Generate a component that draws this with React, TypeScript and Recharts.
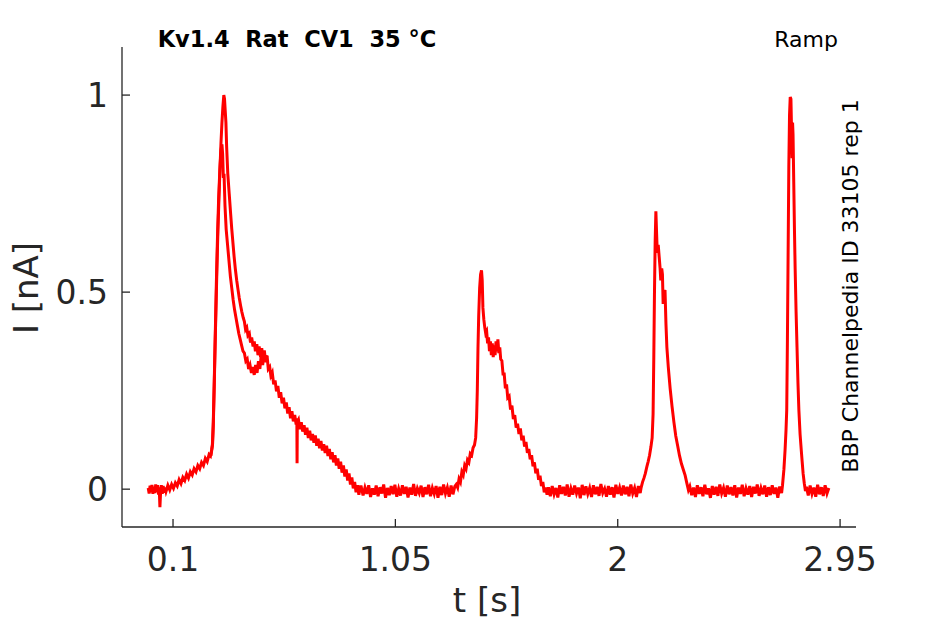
import { Line, LineChart, XAxis, YAxis } from "recharts";

type Sample = [number, number];

// time [s], current [nA]
const quietStart: Sample[] = [
  [-0.006, 0.003], [-0.002, -0.011], [0.002, 0.009], [0.006, -0.008], [0.01, 0.011],
  [0.014, -0.012], [0.018, 0.006], [0.022, -0.01], [0.026, 0.012], [0.03, -0.007],
  [0.034, 0.01], [0.038, -0.014], [0.041, 0.005], [0.044, -0.046], [0.047, -0.006],
  [0.05, 0.01], [0.054, -0.012], [0.058, 0.008], [0.062, -0.009], [0.066, 0.004],
];

const firstRamp: Sample[] = [
  [0.07, -0.006], [0.078, 0.01], [0.086, -0.002], [0.094, 0.012], [0.102, 0.002],
  [0.11, 0.016], [0.118, 0.008], [0.126, 0.024], [0.134, 0.014], [0.142, 0.03],
  [0.15, 0.022], [0.158, 0.038], [0.166, 0.028], [0.174, 0.044], [0.182, 0.036],
  [0.19, 0.052], [0.198, 0.044], [0.206, 0.06], [0.214, 0.052], [0.222, 0.068],
  [0.23, 0.06], [0.238, 0.078], [0.246, 0.07], [0.254, 0.088], [0.26, 0.084],
  [0.265, 0.1],
];

const firstPeak: Sample[] = [
  [0.269, 0.115], [0.272, 0.16], [0.276, 0.26], [0.28, 0.37], [0.284, 0.47],
  [0.288, 0.57], [0.292, 0.66], [0.297, 0.75], [0.301, 0.82], [0.305, 0.88],
  [0.309, 0.93], [0.313, 0.97], [0.317, 1.0], [0.32, 0.99], [0.323, 0.96],
  [0.326, 0.93], [0.329, 0.87], [0.334, 0.8], [0.34, 0.75], [0.346, 0.7],
  [0.351, 0.66], [0.356, 0.625], [0.361, 0.59], [0.366, 0.56], [0.372, 0.53],
  [0.378, 0.505], [0.383, 0.485], [0.389, 0.465], [0.394, 0.45], [0.4, 0.435],
  [0.405, 0.425], [0.41, 0.405], [0.415, 0.41], [0.42, 0.39], [0.426, 0.395],
  [0.431, 0.372], [0.436, 0.385], [0.442, 0.362], [0.447, 0.375], [0.452, 0.35],
  [0.458, 0.368], [0.463, 0.34], [0.468, 0.362], [0.474, 0.335], [0.479, 0.358],
  [0.485, 0.33], [0.49, 0.352], [0.496, 0.322], [0.502, 0.338], [0.507, 0.305],
];

const firstDecay: Sample[] = [
  [0.513, 0.31], [0.518, 0.288], [0.524, 0.296], [0.53, 0.266], [0.536, 0.276],
  [0.542, 0.248], [0.548, 0.262], [0.554, 0.232], [0.56, 0.246], [0.566, 0.218],
  [0.572, 0.232], [0.578, 0.205], [0.584, 0.22], [0.59, 0.192], [0.596, 0.208],
  [0.602, 0.18], [0.608, 0.198], [0.614, 0.172], [0.62, 0.188], [0.626, 0.164],
  [0.629, 0.18], [0.63, 0.066], [0.631, 0.17], [0.636, 0.176], [0.642, 0.152],
  [0.648, 0.17], [0.654, 0.146], [0.66, 0.162], [0.666, 0.138], [0.672, 0.156],
  [0.678, 0.13], [0.684, 0.148], [0.69, 0.124], [0.696, 0.14], [0.702, 0.118],
  [0.708, 0.136], [0.714, 0.11], [0.72, 0.128], [0.726, 0.104], [0.732, 0.122],
  [0.738, 0.098], [0.744, 0.114], [0.75, 0.092], [0.756, 0.11], [0.762, 0.084],
  [0.768, 0.102], [0.774, 0.076], [0.78, 0.094], [0.786, 0.068], [0.792, 0.086],
  [0.798, 0.06], [0.804, 0.078], [0.81, 0.052], [0.816, 0.07], [0.822, 0.042],
  [0.828, 0.06], [0.834, 0.032], [0.84, 0.05], [0.846, 0.022], [0.852, 0.04],
  [0.858, 0.012], [0.864, 0.03], [0.87, 0.002], [0.876, 0.018], [0.882, -0.008],
  [0.888, 0.01], [0.894, -0.014], [0.9, 0.006],
];

const quietTwo: Sample[] = [
  [0.904, 0.006], [0.912, -0.016], [0.92, 0.004], [0.928, -0.012], [0.936, 0.01],
  [0.944, -0.02], [0.952, 0.002], [0.96, -0.014], [0.968, 0.009], [0.976, -0.018],
  [0.984, 0.005], [0.992, -0.011], [1.0, 0.012], [1.008, -0.022], [1.016, 0.003],
  [1.024, -0.015], [1.032, 0.008], [1.04, -0.013], [1.048, 0.011], [1.056, -0.019],
  [1.064, 0.001], [1.072, -0.016], [1.08, 0.01], [1.088, -0.012], [1.096, 0.006],
  [1.104, -0.021], [1.112, 0.004], [1.12, -0.014], [1.128, 0.013], [1.136, -0.017],
  [1.144, 0.002], [1.152, -0.01], [1.16, 0.009], [1.168, -0.02], [1.176, 0.005],
  [1.184, -0.013], [1.192, 0.011], [1.2, -0.018], [1.208, 0.003], [1.216, -0.012],
  [1.224, 0.008], [1.232, -0.022], [1.24, 0.006], [1.248, -0.015], [1.256, 0.012],
  [1.264, -0.011], [1.272, 0.004], [1.28, -0.019], [1.288, 0.009], [1.296, -0.013],
  [1.304, 0.007],
];

const secondPeak: Sample[] = [
  [1.31, 0.012], [1.316, 0.004], [1.322, 0.026], [1.328, 0.018], [1.334, 0.044],
  [1.34, 0.036], [1.346, 0.06], [1.352, 0.052], [1.358, 0.074], [1.364, 0.068],
  [1.37, 0.09], [1.376, 0.086], [1.382, 0.105], [1.388, 0.112], [1.393, 0.13],
  [1.397, 0.18], [1.4, 0.25], [1.403, 0.36], [1.406, 0.44], [1.41, 0.51],
  [1.414, 0.545], [1.418, 0.555], [1.421, 0.53], [1.424, 0.46], [1.428, 0.43],
  [1.432, 0.41], [1.436, 0.395], [1.44, 0.4], [1.444, 0.37], [1.448, 0.385],
  [1.452, 0.35], [1.456, 0.375], [1.46, 0.34], [1.464, 0.37], [1.468, 0.335],
  [1.472, 0.365], [1.476, 0.34], [1.48, 0.375], [1.484, 0.35], [1.488, 0.38],
  [1.492, 0.345], [1.496, 0.36], [1.5, 0.33], [1.505, 0.326], [1.51, 0.292],
  [1.515, 0.292], [1.52, 0.256], [1.525, 0.266], [1.53, 0.232], [1.536, 0.236],
  [1.542, 0.202], [1.548, 0.212], [1.554, 0.178], [1.56, 0.188], [1.566, 0.156],
  [1.572, 0.166], [1.578, 0.14], [1.584, 0.154], [1.59, 0.124], [1.596, 0.136],
  [1.602, 0.108], [1.608, 0.12], [1.614, 0.092], [1.62, 0.102], [1.626, 0.076],
  [1.632, 0.086], [1.638, 0.058], [1.644, 0.068], [1.65, 0.04], [1.656, 0.052],
  [1.662, 0.024], [1.668, 0.034], [1.674, 0.008], [1.68, 0.018], [1.686, -0.008],
  [1.692, 0.004], [1.698, -0.014],
];

const quietThree: Sample[] = [
  [1.704, 0.005], [1.712, -0.018], [1.72, 0.008], [1.728, -0.013], [1.736, 0.003],
  [1.744, -0.021], [1.752, 0.01], [1.76, -0.012], [1.768, 0.006], [1.776, -0.016],
  [1.784, 0.012], [1.792, -0.019], [1.8, 0.002], [1.808, -0.014], [1.816, 0.009],
  [1.824, -0.011], [1.832, 0.004], [1.84, -0.023], [1.848, 0.011], [1.856, -0.015],
  [1.864, 0.007], [1.872, -0.012], [1.88, 0.003], [1.888, -0.02], [1.896, 0.01],
  [1.904, -0.013], [1.912, 0.006], [1.92, -0.017], [1.928, 0.013], [1.936, -0.01],
  [1.944, 0.001], [1.952, -0.019], [1.96, 0.008], [1.968, -0.014], [1.976, 0.005],
  [1.984, -0.021], [1.992, 0.011], [2.0, -0.012], [2.008, 0.004], [2.016, -0.016],
  [2.024, 0.009], [2.032, -0.013], [2.04, 0.006], [2.048, -0.018], [2.056, 0.012],
  [2.064, -0.011], [2.072, 0.003], [2.08, -0.02], [2.088, 0.008], [2.096, -0.01],
];

const thirdPeak: Sample[] = [
  [2.1, 0.004], [2.106, 0.018], [2.112, 0.028], [2.118, 0.04], [2.124, 0.056],
  [2.13, 0.07], [2.136, 0.086], [2.142, 0.108], [2.147, 0.13], [2.151, 0.19],
  [2.154, 0.33], [2.157, 0.5], [2.16, 0.63], [2.163, 0.705], [2.166, 0.65],
  [2.169, 0.6], [2.173, 0.62], [2.177, 0.59], [2.181, 0.56], [2.184, 0.53],
  [2.188, 0.56], [2.191, 0.545], [2.194, 0.47], [2.198, 0.5], [2.202, 0.505],
  [2.206, 0.42], [2.21, 0.36], [2.216, 0.31], [2.224, 0.255], [2.232, 0.21],
  [2.24, 0.17], [2.248, 0.135], [2.256, 0.11], [2.264, 0.085], [2.272, 0.065],
  [2.28, 0.05], [2.288, 0.035], [2.295, 0.016], [2.302, -0.002],
];

const quietFour: Sample[] = [
  [2.308, 0.007], [2.316, -0.015], [2.324, 0.004], [2.332, -0.02], [2.34, 0.01],
  [2.348, -0.012], [2.356, 0.005], [2.364, -0.018], [2.372, 0.011], [2.38, -0.013],
  [2.388, 0.002], [2.396, -0.022], [2.404, 0.008], [2.412, -0.014], [2.42, 0.006],
  [2.428, -0.017], [2.436, 0.012], [2.444, -0.011], [2.452, 0.003], [2.46, -0.019],
  [2.468, 0.009], [2.476, -0.013], [2.484, 0.005], [2.492, -0.016], [2.5, 0.01],
  [2.508, -0.021], [2.516, 0.004], [2.524, -0.012], [2.532, 0.011], [2.54, -0.018],
  [2.548, 0.002], [2.556, -0.014], [2.564, 0.008], [2.572, -0.02], [2.58, 0.006],
  [2.588, -0.011], [2.596, 0.012], [2.604, -0.017], [2.612, 0.003], [2.62, -0.013],
  [2.628, 0.009], [2.636, -0.019], [2.644, 0.005], [2.652, -0.015], [2.66, 0.01],
  [2.668, -0.012], [2.676, 0.004], [2.684, -0.022], [2.692, 0.007], [2.7, -0.01],
];

const fourthPeak: Sample[] = [
  [2.704, 0.01], [2.71, 0.05], [2.715, 0.1], [2.719, 0.15], [2.722, 0.2],
  [2.725, 0.38], [2.728, 0.6], [2.731, 0.82], [2.734, 0.95], [2.737, 0.995],
  [2.74, 0.99], [2.743, 0.9], [2.745, 0.84], [2.747, 0.93], [2.749, 0.9],
  [2.752, 0.78], [2.755, 0.66], [2.758, 0.56], [2.762, 0.45], [2.766, 0.36],
  [2.77, 0.27], [2.774, 0.2], [2.779, 0.14], [2.784, 0.1], [2.788, 0.07],
  [2.792, 0.04], [2.797, 0.015], [2.802, -0.005],
];

const quietEnd: Sample[] = [
  [2.806, 0.006], [2.814, -0.016], [2.822, 0.009], [2.83, -0.012], [2.838, 0.004],
  [2.846, -0.019], [2.854, 0.011], [2.862, -0.013], [2.87, 0.005], [2.878, -0.017],
  [2.886, 0.01], [2.894, -0.011], [2.902, 0.003],
];

// second overlaid sweep, only differs around the first peak
const overlapPeak: Sample[] = [
  [0.262, 0.085], [0.268, 0.11], [0.272, 0.17], [0.276, 0.27], [0.28, 0.38],
  [0.285, 0.52], [0.29, 0.64], [0.295, 0.74], [0.3, 0.81], [0.305, 0.86],
  [0.309, 0.875], [0.312, 0.85], [0.315, 0.79], [0.318, 0.8], [0.322, 0.72],
  [0.327, 0.66], [0.333, 0.62], [0.339, 0.58], [0.345, 0.54], [0.351, 0.51],
  [0.357, 0.48], [0.363, 0.455], [0.369, 0.435], [0.375, 0.415], [0.381, 0.395],
  [0.387, 0.38], [0.393, 0.365], [0.399, 0.35], [0.405, 0.345], [0.411, 0.325],
  [0.417, 0.33], [0.423, 0.305], [0.429, 0.315], [0.435, 0.295], [0.441, 0.31],
  [0.447, 0.29], [0.453, 0.315], [0.459, 0.295], [0.465, 0.325], [0.471, 0.305],
  [0.477, 0.34], [0.483, 0.315], [0.489, 0.345], [0.495, 0.325], [0.501, 0.34],
];

const xTicks = [0.1, 1.05, 2, 2.95];
const xTickLabels = ["0.1", "1.05", "2", "2.95"];
const yTicks = [0, 0.5, 1];
const yTickLabels = ["0", "0.5", "1"];

const mainSweep = [
  ...quietStart, ...firstRamp, ...firstPeak, ...firstDecay, ...quietTwo,
  ...secondPeak, ...quietThree, ...thirdPeak, ...quietFour, ...fourthPeak, ...quietEnd,
].map(([t, i]) => ({ t, i }));
const overlapSweep = overlapPeak.map(([t, i]) => ({ t, i }));

const axisColor = "#262626";
const font = "DejaVu Sans";

export default function App() {
  return (
    <div style={{ position: "absolute", left: 0, top: 0, width: 945, height: 624, background: "#fff", fontFamily: font }}>
      <LineChart width={945} height={624} margin={{ top: 47, right: 89, bottom: 0, left: 0 }}>
        <XAxis
          dataKey="t"
          type="number"
          domain={[-0.118, 3.018]}
          allowDataOverflow
          ticks={xTicks}
          tickFormatter={(_v, idx) => xTickLabels[idx]}
          height={97}
          tickSize={-8}
          tickMargin={29}
          stroke={axisColor}
          strokeWidth={1.3}
          tick={{ fill: axisColor, fontSize: 33, fontFamily: font }}
        />
        <YAxis
          type="number"
          domain={[-0.096, 1.122]}
          allowDataOverflow
          ticks={yTicks}
          tickFormatter={(_v, idx) => yTickLabels[idx]}
          width={122}
          tickSize={-8}
          tickMargin={22}
          stroke={axisColor}
          strokeWidth={1.3}
          tick={{ fill: axisColor, fontSize: 33, fontFamily: font }}
        />
        <Line data={overlapSweep} dataKey="i" stroke="#ff0000" strokeWidth={3} dot={false} isAnimationActive={false} />
        <Line data={mainSweep} dataKey="i" stroke="#ff0000" strokeWidth={3} dot={false} isAnimationActive={false} />
      </LineChart>
      <svg width={945} height={624} style={{ position: "absolute", left: 0, top: 0, pointerEvents: "none" }}>
        <text x={297} y={47} textAnchor="middle" fontSize={22.5} fontWeight="bold" fill="#000" style={{ whiteSpace: "pre" }}>
          {"Kv1.4  Rat  CV1  35 °C"}
        </text>
        <text x={838} y={47} textAnchor="end" fontSize={22} fill="#000">
          Ramp
        </text>
        <text x={858} y={286} textAnchor="middle" fontSize={22} fill="#000" transform="rotate(-90 858 286)">
          BBP Channelpedia ID 33105 rep 1
        </text>
        <text x={487} y={612} textAnchor="middle" fontSize={34} fill={axisColor}>
          t [s]
        </text>
        <text x={38} y={288} textAnchor="middle" fontSize={34} fill={axisColor} transform="rotate(-90 38 288)">
          I [nA]
        </text>
      </svg>
    </div>
  );
}
